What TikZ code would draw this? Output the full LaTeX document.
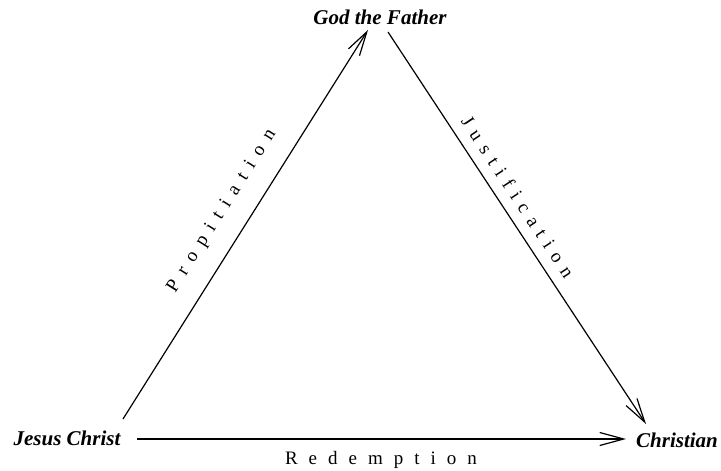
\documentclass[tikz,border=0pt]{standalone}
\usepackage{fontspec}
\setmainfont{Liberation Serif}
\usetikzlibrary{arrows.meta}
\makeatletter
\newlength\lsp
\def\spacedaux#1#2{#1\ifx\relax#2\expandafter\@gobble\else\kern\lsp\expandafter\@firstofone\fi{\spacedaux#2}}
\newcommand\spreadtext[2]{\setlength\lsp{#1}\spacedaux#2\relax}
\makeatother
\begin{document}
\begin{tikzpicture}[x=1pt,y=-1pt,
  vertex/.style={font=\fontsize{21}{24}\selectfont\bfseries\itshape, inner sep=0pt, anchor=base},
  edgelabel/.style={font=\fontsize{19}{22}\selectfont, inner sep=0pt},
  arrowline/.style={line width=1.2pt, -{Straight Barb[length=24pt,width=13pt,line width=1.2pt]}}]
\useasboundingbox (0,0) rectangle (721,471);
\node[vertex] (gf) at (380,24) {God the Father};
\node[vertex] (jc) at (67,445) {Jesus Christ};
\node[vertex] (ch) at (677,447) {Christian};
\coordinate (jcA) at (123,419);
\coordinate (gfA) at (368,30);
\coordinate (gfB) at (388,32);
\coordinate (chB) at (646,424);
\coordinate (jcC) at (137,439);
\coordinate (chC) at (626,439);
\draw[arrowline] (jcA) -- (gfA);
\draw[arrowline] (gfB) -- (chB);
\draw[arrowline] (jcC) -- (chC);
\node[edgelabel, rotate=57.8] (prop) at (222,211) {\spreadtext{9pt}{Propitiation}};
\node[edgelabel, rotate=-56.6] (just) at (518,197) {\spreadtext{8pt}{Justification}};
\node[edgelabel] (rede) at (381,460) {\spreadtext{11pt}{Redemption}};
\end{tikzpicture}
\end{document}
